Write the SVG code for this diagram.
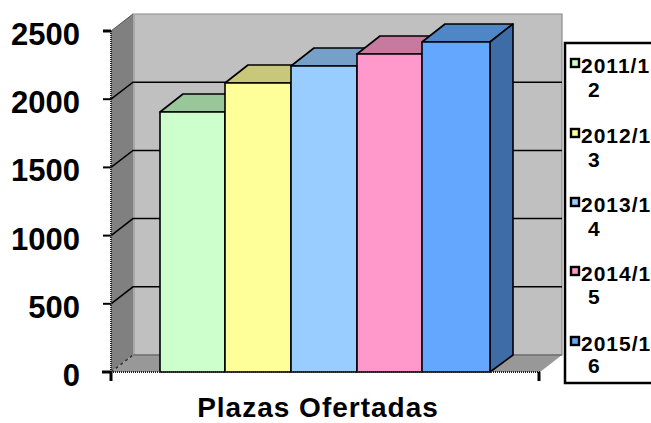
<svg xmlns="http://www.w3.org/2000/svg" width="651" height="423" viewBox="0 0 651 423">
<style>
text{font-family:"Liberation Sans",Arial,sans-serif;font-weight:bold;fill:#000}
.tick{font-size:31px;text-anchor:end}
.leg{font-size:21px;letter-spacing:1px}
.grid{stroke:#000;stroke-width:1.5;fill:none}
.bar{stroke:#000;stroke-width:1.6;stroke-linejoin:round}
.mk{stroke:#000;stroke-width:2.4}
</style>
<rect width="651" height="423" fill="#fff"/>
<g id="walls">
<polygon points="133,14 562,14 562,355 133,355" fill="#c0c0c0" stroke="#8a8a8a" stroke-width="1.2"/>
<polygon points="111,31 133,14 133,355 111,372" fill="#808080"/>
<line x1="134" y1="14" x2="134" y2="355" stroke="#a8a8a8" stroke-width="2"/>
<polygon points="111,372 133,355 562,355 540,372" fill="#989898"/>
<line x1="133" y1="355" x2="562" y2="355" stroke="#707070" stroke-width="1.5"/>
<line x1="111" y1="372" x2="133" y2="355" stroke="#333" stroke-width="1.5" stroke-dasharray="3,3"/>
<line x1="111" y1="31" x2="133" y2="14" stroke="#555" stroke-width="1"/>
</g>
<g id="gridlines">
<polyline class="grid" points="111,303.8 133,286.8 562,286.8"/>
<polyline class="grid" points="111,235.6 133,218.6 562,218.6"/>
<polyline class="grid" points="111,167.4 133,150.4 562,150.4"/>
<polyline class="grid" points="111,99.2 133,82.2 562,82.2"/>
</g>
<g id="bars">
<g id="bar1">
<polygon class="bar" points="160,112 183,94 248,94 225,112" fill="#99c799"/>
<rect class="bar" x="160" y="112" width="65" height="260" fill="#ccffcc"/>
</g>
<g id="bar2">
<polygon class="bar" points="225,83 248,65 314,65 291,83" fill="#c8c878"/>
<rect class="bar" x="225" y="83" width="66" height="289" fill="#ffff99"/>
</g>
<g id="bar3">
<polygon class="bar" points="291,66 314,48 380,48 357,66" fill="#76a0c8"/>
<rect class="bar" x="291" y="66" width="66" height="306" fill="#99ccff"/>
</g>
<g id="bar4">
<polygon class="bar" points="357,54 380,36 445,36 422,54" fill="#c67aa0"/>
<rect class="bar" x="357" y="54" width="65" height="318" fill="#ff99cc"/>
</g>
<g id="bar5">
<polygon class="bar" points="422,42 445,24 513,24 490,42" fill="#4e86c6"/>
<polygon class="bar" points="490,42 513,24 513,355 490,372" fill="#3e6ca6"/>
<rect class="bar" x="422" y="42" width="68" height="330" fill="#63a7ff"/>
</g>
</g>
<g id="axes">
<line x1="111" y1="31" x2="111" y2="372" stroke="#222" stroke-width="2" stroke-dasharray="1,1"/>
<line x1="111" y1="372" x2="540" y2="372" stroke="#222" stroke-width="2" stroke-dasharray="1,1"/>
<g stroke="#000" stroke-width="2">
<line x1="103" y1="31" x2="111" y2="31" stroke-width="3"/>
<line x1="103" y1="99.2" x2="111" y2="99.2"/>
<line x1="103" y1="167.4" x2="111" y2="167.4"/>
<line x1="103" y1="235.6" x2="111" y2="235.6"/>
<line x1="103" y1="303.8" x2="111" y2="303.8"/>
<line x1="102" y1="372" x2="111" y2="372" stroke-width="3"/>
<line x1="111" y1="372" x2="111" y2="381" stroke-width="3"/>
<line x1="539" y1="372" x2="539" y2="381" stroke-width="3"/>
</g>
<text class="tick" x="80" y="45">2500</text>
<text class="tick" x="80" y="113">2000</text>
<text class="tick" x="80" y="181">1500</text>
<text class="tick" x="80" y="250">1000</text>
<text class="tick" x="80" y="318">500</text>
<text class="tick" x="80" y="386">0</text>
<text x="318" y="417" font-size="28" letter-spacing="1" text-anchor="middle">Plazas Ofertadas</text>
</g>
<g id="legend">
<rect x="565" y="43" width="100" height="340" fill="#fff" stroke="#000" stroke-width="2.5"/>
<rect class="mk" x="571" y="59" width="8" height="8" fill="#ccffcc"/>
<text class="leg" x="581" y="73">2011/1</text>
<text class="leg" x="588" y="97">2</text>
<rect class="mk" x="571" y="129" width="8" height="8" fill="#ffff99"/>
<text class="leg" x="581" y="143">2012/1</text>
<text class="leg" x="588" y="167">3</text>
<rect class="mk" x="571" y="198" width="8" height="8" fill="#99ccff"/>
<text class="leg" x="581" y="212">2013/1</text>
<text class="leg" x="588" y="236">4</text>
<rect class="mk" x="571" y="267" width="8" height="8" fill="#ff99cc"/>
<text class="leg" x="581" y="281">2014/1</text>
<text class="leg" x="588" y="304">5</text>
<rect class="mk" x="571" y="337" width="8" height="8" fill="#63a7ff"/>
<text class="leg" x="581" y="351">2015/1</text>
<text class="leg" x="588" y="373">6</text>
</g>
</svg>
